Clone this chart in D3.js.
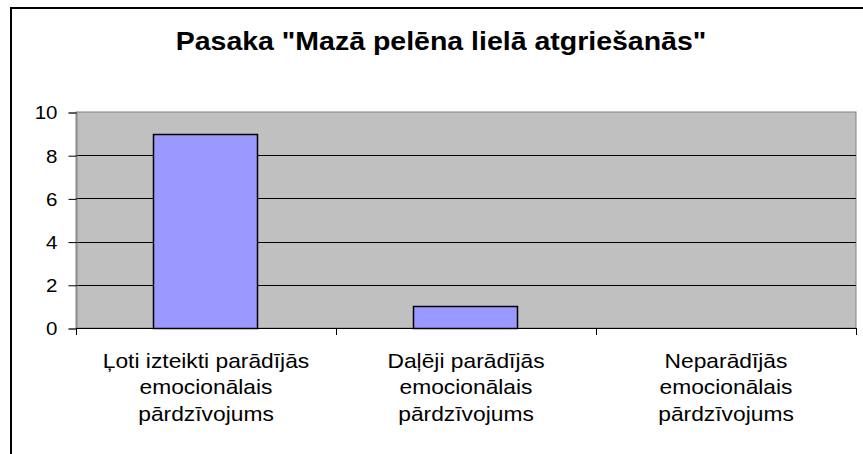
<!DOCTYPE html>
<html>
<head>
<meta charset="utf-8">
<script src="https://cdn.jsdelivr.net/npm/d3@7"></script>
<style>
  body { margin: 0; background: #fff; }
  svg { display: block; font-family: "Liberation Sans", Arial, sans-serif; }
</style>
</head>
<body>
<svg id="chart" width="863" height="454"></svg>
<script>
// chart data
const titleText = 'Pasaka "Mazā pelēna lielā atgriešanās"';
const categories = [
  ["Ļoti izteikti parādījās", "emocionālais", "pārdzīvojums"],
  ["Daļēji parādījās", "emocionālais", "pārdzīvojums"],
  ["Neparādījās", "emocionālais", "pārdzīvojums"]
];
const values = [9, 1, 0];
const yTicks = [0, 2, 4, 6, 8, 10];

const svg = d3.select("#chart");
const plot = { left: 76, right: 856, top: 112, bottom: 328 };
// the original text is a little wider than the font's natural width
const stretch = 1.14;

// outer frame (only top and left edges visible)
svg.append("path")
  .attr("d", "M11,454 V8 H863")
  .attr("fill", "none")
  .attr("stroke", "#000")
  .attr("stroke-width", 2);

// title
svg.append("text")
  .attr("transform", `translate(441,50) scale(${stretch},1)`)
  .attr("text-anchor", "middle")
  .style("font-size", "25px")
  .style("font-weight", "bold")
  .text(titleText);

const x = d3.scaleBand()
  .domain(d3.range(categories.length))
  .range([plot.left, plot.right]);

const y = d3.scaleLinear()
  .domain([0, 10])
  .range([plot.bottom, plot.top]);

// plot area background
svg.append("rect")
  .attr("x", plot.left)
  .attr("y", plot.top)
  .attr("width", plot.right - plot.left)
  .attr("height", plot.bottom - plot.top)
  .attr("fill", "#c0c0c0")
  .attr("stroke", "#808080")
  .attr("stroke-width", 1);

// gridlines
svg.append("g")
  .selectAll("line")
  .data(yTicks.filter(d => d > 0 && d < 10))
  .join("line")
  .attr("x1", plot.left)
  .attr("x2", plot.right)
  .attr("y1", d => Math.round(y(d)) + 0.5)
  .attr("y2", d => Math.round(y(d)) + 0.5)
  .attr("stroke", "#000");

// bars
const barW = x.bandwidth() * 0.4;
svg.append("g")
  .selectAll("rect")
  .data(values)
  .join("rect")
  .attr("x", (d, i) => Math.round(x(i) + (x.bandwidth() - barW) / 2) - 0.5)
  .attr("y", d => Math.round(y(d)) + 0.5)
  .attr("width", barW)
  .attr("height", d => y(0) - Math.round(y(d)))
  .attr("fill", d => d > 0 ? "#9999ff" : "none")
  .attr("stroke", d => d > 0 ? "#000" : "none")
  .attr("stroke-width", 1.5);

// y axis
const yAxis = d3.axisLeft(y)
  .tickValues(yTicks)
  .tickSize(8)
  .tickFormat(d3.format("d"));

svg.append("g")
  .attr("transform", `translate(${plot.left + 0.5},0.5)`)
  .call(yAxis)
  .call(g => g.select(".domain").attr("stroke", "#808080"))
  .call(g => g.selectAll(".tick line").attr("stroke", "#000"))
  .call(g => g.selectAll(".tick text")
    .attr("fill", "#000")
    .attr("x", -19 / stretch)
    .attr("dy", "0.36em")
    .attr("transform", `scale(${stretch},1)`)
    .style("font-size", "18px")
    .style("font-family", "Liberation Sans, Arial, sans-serif"));

// x axis line and ticks
svg.append("line")
  .attr("x1", plot.left)
  .attr("x2", plot.right)
  .attr("y1", plot.bottom + 0.5)
  .attr("y2", plot.bottom + 0.5)
  .attr("stroke", "#000");

svg.append("g")
  .selectAll("line")
  .data(d3.range(categories.length + 1))
  .join("line")
  .attr("x1", i => (i < categories.length ? x(i) : plot.right) + 0.5)
  .attr("x2", i => (i < categories.length ? x(i) : plot.right) + 0.5)
  .attr("y1", plot.bottom)
  .attr("y2", plot.bottom + 7)
  .attr("stroke", "#000");

// category labels
svg.append("g")
  .selectAll("text")
  .data(categories)
  .join("text")
  .attr("transform", (d, i) => `translate(${x(i) + x.bandwidth() / 2},0) scale(${stretch},1)`)
  .attr("text-anchor", "middle")
  .style("font-size", "20px")
  .selectAll("tspan")
  .data(d => d)
  .join("tspan")
  .attr("x", 0)
  .attr("y", (d, j) => 368 + j * 26.5)
  .text(d => d);
</script>
</body>
</html>
